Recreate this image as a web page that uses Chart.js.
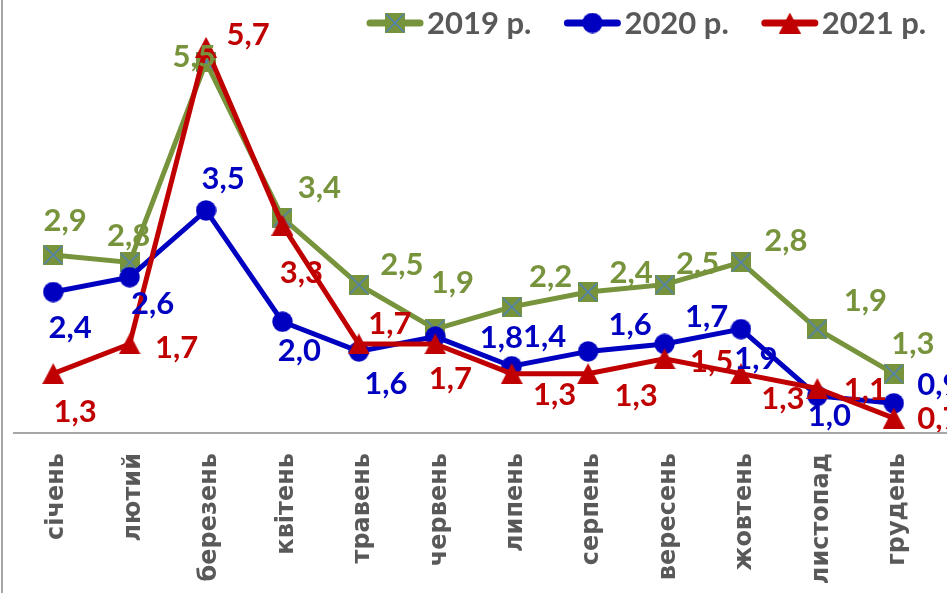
<!DOCTYPE html>
<html lang="uk">
<head>
<meta charset="utf-8">
<title>Місячна динаміка</title>
<script src="https://cdn.jsdelivr.net/npm/chart.js@4.4.1/dist/chart.umd.min.js"></script>
<style>
    html, body { margin: 0; padding: 0; background: #fff; }
    #wrap { width: 947px; height: 593px; position: relative; }
</style>
</head>
<body>
<div id="wrap"><canvas id="chart" width="947" height="593"></canvas></div>
<script>
const months = ['січень', 'лютий', 'березень', 'квітень', 'травень', 'червень', 'липень', 'серпень', 'вересень', 'жовтень', 'листопад', 'грудень'];
const values2019 = [2.9, 2.8, 5.5, 3.4, 2.5, 1.9, 2.2, 2.4, 2.5, 2.8, 1.9, 1.3];
const values2020 = [2.4, 2.6, 3.5, 2.0, 1.6, 1.8, 1.4, 1.6, 1.7, 1.9, 1.0, 0.9];
const values2021 = [1.3, 1.7, 5.7, 3.3, 1.7, 1.7, 1.3, 1.3, 1.5, 1.3, 1.1, 0.7];
const seriesNames = ['2019 р.', '2020 р.', '2021 р.'];
const yMin = 0.5;
const yMax = 6.0;

// where each value label sits relative to its point (px), like the original layout
const labelOffsets = [
    [[12, -35], [-1, -27], [-12, -6], [37, -31], [43, -21], [17, -47], [39, -31], [43, -20], [33, -22], [45, -22], [48, -29], [19, -31]],
    [[17, 35], [23, 26], [17, -32], [17, 28], [27, 32], [66, 0], [33, -30], [42, -27], [42, -28], [15, 29], [12, 19], [45, -19]],
    [[22, 37], [47, 3], [42, -13], [19, 47], [31, -21], [15, 34], [43, 20], [48, 21], [47, 2], [42, 24], [48, 1], [45, 0]]
];

const colors = ['#77933C', '#0000C0', '#C00000'];
const labelFont = 'bold 31px Lato';
const legendFont = 'bold 31px Lato';
const gray = '#595959';

function makeSquare() {
    const c = document.createElement('canvas');
    c.width = 20; c.height = 20;
    const g = c.getContext('2d');
    g.fillStyle = colors[0];
    g.fillRect(0, 0, 20, 20);
    g.strokeStyle = '#4F81BD';
    g.lineWidth = 1.5;
    g.beginPath();
    g.moveTo(1, 1); g.lineTo(19, 19);
    g.moveTo(19, 1); g.lineTo(1, 19);
    g.stroke();
    return c;
}

function makeTriangle() {
    const c = document.createElement('canvas');
    c.width = 22; c.height = 21;
    const g = c.getContext('2d');
    g.fillStyle = colors[2];
    g.beginPath();
    g.moveTo(11, 0); g.lineTo(22, 21); g.lineTo(0, 21);
    g.closePath();
    g.fill();
    return c;
}

function makeCircle() {
    const c = document.createElement('canvas');
    c.width = 21; c.height = 21;
    const g = c.getContext('2d');
    g.fillStyle = colors[1];
    g.beginPath();
    g.arc(10.5, 10.5, 10.2, 0, Math.PI * 2);
    g.fill();
    return c;
}

const markers = [makeSquare(), makeCircle(), makeTriangle()];

function formatValue(v) {
    return v.toFixed(1).replace('.', ',');
}

const valueLabels = {
    id: 'valueLabels',
    afterDatasetsDraw(chart) {
        const ctx = chart.ctx;
        ctx.save();
        ctx.font = labelFont;
        ctx.textAlign = 'center';
        ctx.textBaseline = 'alphabetic';
        chart.data.datasets.forEach((ds, i) => {
            const meta = chart.getDatasetMeta(i);
            meta.data.forEach((pt, j) => {
                const [dx, dy] = labelOffsets[i][j];
                ctx.fillStyle = colors[i];
                ctx.fillText(formatValue(ds.data[j]), pt.x + dx, pt.y + dy + 11);
            });
        });
        ctx.restore();
    }
};

const frame = {
    id: 'frame',
    beforeDraw(chart) {
        const ctx = chart.ctx;
        ctx.save();
        ctx.strokeStyle = '#A6A6A6';
        ctx.lineWidth = 2;
        ctx.beginPath();
        ctx.moveTo(2, 0);
        ctx.lineTo(2, chart.height);
        ctx.stroke();
        ctx.restore();
    },
    afterDraw(chart) {
        // category axis line, runs past the plot to the right edge
        const ctx = chart.ctx;
        const y = chart.scales.y.getPixelForValue(yMin);
        ctx.save();
        ctx.strokeStyle = '#A6A6A6';
        ctx.lineWidth = 2;
        ctx.beginPath();
        ctx.moveTo(13, y);
        ctx.lineTo(chart.width, y);
        ctx.stroke();
        ctx.restore();
    }
};

const legendBox = {
    id: 'legendBox',
    afterDraw(chart) {
        const ctx = chart.ctx;
        const y = 23;
        let x = 367;
        ctx.save();
        ctx.font = legendFont;
        ctx.textBaseline = 'alphabetic';
        ctx.textAlign = 'left';
        seriesNames.forEach((name, i) => {
            ctx.strokeStyle = colors[i];
            ctx.lineWidth = 7;
            ctx.lineCap = 'round';
            ctx.beginPath();
            ctx.moveTo(x + 3, y);
            ctx.lineTo(x + 53, y);
            ctx.stroke();
            const m = markers[i];
            ctx.drawImage(m, x + 28 - m.width / 2, y - m.height / 2);
            ctx.fillStyle = gray;
            ctx.fillText(name, x + 60, y + 11);
            x += 60 + ctx.measureText(name).width + 33;
        });
        ctx.restore();
    }
};

function makeDataset(i, data) {
    return {
        label: seriesNames[i],
        data: data,
        borderColor: colors[i],
        backgroundColor: colors[i],
        borderWidth: 5,
        tension: 0,
        pointStyle: markers[i],
        pointRadius: 10,
        pointHoverRadius: 10,
        order: 3 - i
    };
}

const ctx = document.getElementById('chart').getContext('2d');
new Chart(ctx, {
    type: 'line',
    data: {
        labels: months,
        datasets: [
            makeDataset(0, values2019),
            makeDataset(1, values2020),
            makeDataset(2, values2021)
        ]
    },
    options: {
        responsive: false,
        animation: false,
        layout: { padding: { top: 25, left: 12, right: 7, bottom: 0 } },
        plugins: {
            legend: { display: false },
            tooltip: { enabled: false }
        },
        scales: {
            x: {
                offset: true,
                grid: { display: false, drawTicks: false },
                border: { display: false },
                afterFit(scale) { scale.height = 160; },
                ticks: {
                    autoSkip: false,
                    minRotation: 90,
                    maxRotation: 90,
                    padding: 20,
                    labelOffset: 4,
                    color: gray,
                    font: { family: 'DejaVu Sans', weight: 'bold', size: 24 }
                }
            },
            y: {
                display: false,
                min: yMin,
                max: yMax
            }
        }
    },
    plugins: [frame, valueLabels, legendBox]
});
</script>
</body>
</html>
